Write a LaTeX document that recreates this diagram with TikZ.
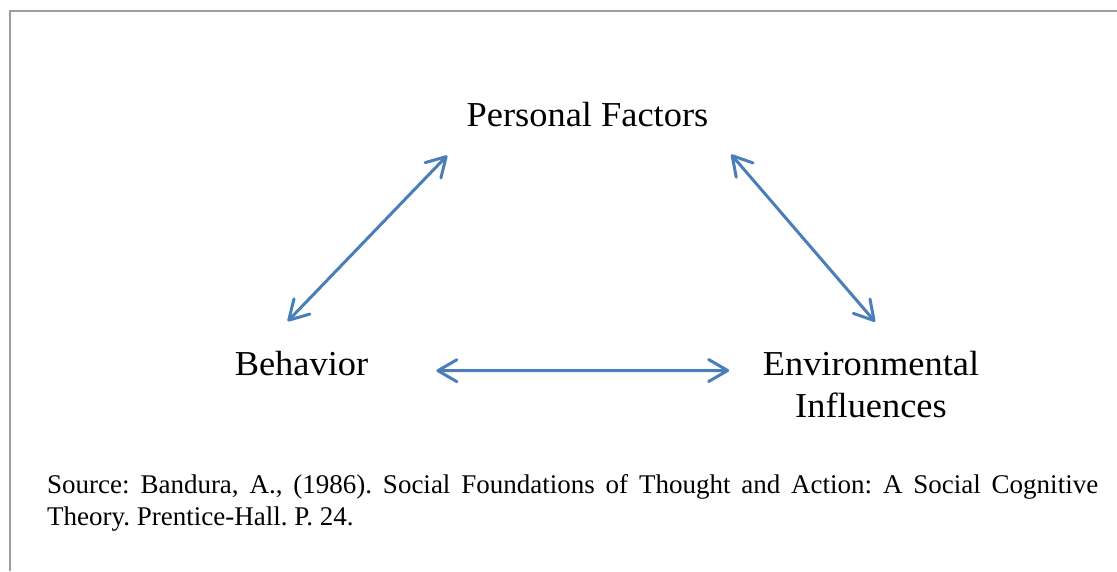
\documentclass[tikz,border=0pt]{standalone}
\usepackage{fontspec}
\setmainfont{Liberation Serif}[FakeStretch=1.04]
\newfontfamily\sourcefont{Liberation Serif}
\usepackage{xcolor}
\usetikzlibrary{arrows.meta,positioning,calc}
\tikzset{>={Straight Barb[length=19pt,width=22pt,round]}}
\colorlet{framegray}{black!38}
\definecolor{arrowblue}{RGB}{74,126,187}
\frenchspacing

\begin{document}
\begin{tikzpicture}[x=1pt, y=-1pt, link/.style={line width=3pt,color=arrowblue,<->}, factor/.style={inner sep=0pt,align=center,font=\fontsize{35}{42}\selectfont}, frame/.style={line width=2pt,color=framegray}]

    \useasboundingbox (0,0) rectangle (1117,571);

    % Frame
    \draw[frame] (9.5,571) -- (9.5,10.5) -- (1117,10.5);

    % Factors
    \node[factor, anchor=base] (pf) at (587.5,126) {Personal Factors};
    \node[factor, anchor=base] (beh) at (301.5,375) {Behavior};
    \node[factor, anchor=north] (env) at (871,351) {Environmental\\Influences};

    % Arrows
    \draw[link] ([shift={(-13.8,-29.3)}]beh.north) -- ([shift={(-19.3,29)}]pf.south west);
    \draw[link] ([shift={(22.7,28)}]pf.south east) -- ([shift={(4,-29.3)}]env.north);
    \draw[link] ([shift={(68,-4.3)}]beh.base east) -- ([shift={(-33.5,19.5)}]env.north west);

    % Source
    \node[anchor=north west, inner sep=0pt, text width=1051pt, align=justify, font=\sourcefont\fontsize{27}{32}\selectfont] (src) at (47,474) {Source: Bandura, A., (1986). Social Foundations of Thought and Action: A Social Cognitive\linebreak Theory. Prentice-Hall. P. 24.};
\end{tikzpicture}
\end{document}
